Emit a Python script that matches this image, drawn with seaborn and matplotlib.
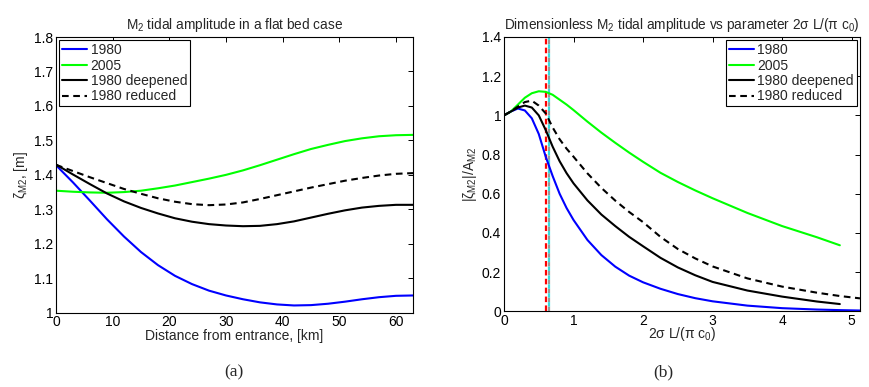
import numpy as np
import pandas as pd
import matplotlib
matplotlib.use("Agg")
import matplotlib.pyplot as plt
import seaborn as sns

# ---------------- data: panel (a) ----------------
dist_km = [0, 3, 6, 9, 12, 15, 18, 21, 24, 27, 30, 33, 36, 39, 42, 45, 48, 51, 54, 57, 60, 63]
amp_1980 = [1.428, 1.378, 1.325, 1.271, 1.221, 1.176, 1.138, 1.107, 1.083, 1.064, 1.050, 1.039,
            1.030, 1.024, 1.021, 1.022, 1.026, 1.032, 1.039, 1.045, 1.049, 1.050]
amp_2005 = [1.354, 1.351, 1.349, 1.348, 1.350, 1.354, 1.361, 1.369, 1.379, 1.389, 1.400, 1.413,
            1.428, 1.444, 1.460, 1.475, 1.487, 1.498, 1.506, 1.512, 1.515, 1.516]
amp_deep = [1.430, 1.401, 1.373, 1.346, 1.323, 1.304, 1.288, 1.274, 1.264, 1.257, 1.253, 1.251,
            1.252, 1.257, 1.265, 1.276, 1.287, 1.297, 1.305, 1.310, 1.313, 1.313]
amp_red = [1.429, 1.411, 1.393, 1.376, 1.359, 1.345, 1.332, 1.322, 1.315, 1.312, 1.314, 1.320,
           1.330, 1.341, 1.352, 1.363, 1.373, 1.383, 1.391, 1.398, 1.403, 1.405]

# ---------------- data: panel (b) ----------------
param_full = [0, 0.1, 0.2, 0.3, 0.4, 0.5, 0.6, 0.7, 0.8, 0.9, 1.0, 1.2, 1.4, 1.6, 1.8, 2.0,
              2.25, 2.5, 2.75, 3.0, 3.5, 4.0, 4.5, 4.83, 5.12]
param_short = param_full[:-1]
dim_1980 = [1.0, 1.02, 1.035, 1.025, 0.985, 0.905, 0.789, 0.69, 0.60, 0.527, 0.466, 0.364, 0.287,
            0.228, 0.182, 0.148, 0.115, 0.088, 0.067, 0.051, 0.029, 0.016, 0.009, 0.006, 0.004]
dim_2005 = [1.0, 1.02, 1.055, 1.09, 1.113, 1.123, 1.12, 1.105, 1.08, 1.055, 1.027, 0.968, 0.912,
            0.86, 0.81, 0.763, 0.707, 0.66, 0.617, 0.577, 0.502, 0.435, 0.378, 0.337]
dim_deep = [1.0, 1.02, 1.04, 1.05, 1.04, 1.0, 0.925, 0.84, 0.766, 0.705, 0.653, 0.566, 0.494,
            0.435, 0.38, 0.332, 0.273, 0.224, 0.184, 0.150, 0.106, 0.075, 0.050, 0.037]
dim_red = [1.0, 1.02, 1.045, 1.068, 1.075, 1.05, 1.01, 0.938, 0.878, 0.83, 0.789, 0.704, 0.630,
           0.565, 0.507, 0.455, 0.380, 0.318, 0.270, 0.229, 0.168, 0.126, 0.095, 0.078, 0.066]
vline_red = 0.605
vline_cyan = 0.645

labels = ["1980", "2005", "1980 deepened", "1980 reduced"]
colors = {"1980": "#0000ff", "2005": "#00ff00", "1980 deepened": "black", "1980 reduced": "black"}
dashes = {"1980": "", "2005": "", "1980 deepened": "", "1980 reduced": (3.2, 2.2)}

df_a = pd.concat([
    pd.DataFrame({"x": dist_km, "y": amp_1980, "case": "1980"}),
    pd.DataFrame({"x": dist_km, "y": amp_2005, "case": "2005"}),
    pd.DataFrame({"x": dist_km, "y": amp_deep, "case": "1980 deepened"}),
    pd.DataFrame({"x": dist_km, "y": amp_red, "case": "1980 reduced"}),
], ignore_index=True)
df_b = pd.concat([
    pd.DataFrame({"x": param_full, "y": dim_1980, "case": "1980"}),
    pd.DataFrame({"x": param_short, "y": dim_2005, "case": "2005"}),
    pd.DataFrame({"x": param_short, "y": dim_deep, "case": "1980 deepened"}),
    pd.DataFrame({"x": param_full, "y": dim_red, "case": "1980 reduced"}),
], ignore_index=True)

sns.set_theme(style="white")
plt.rcParams["font.family"] = ["Liberation Sans", "DejaVu Sans"]
plt.rcParams["mathtext.fontset"] = "custom"
plt.rcParams["mathtext.rm"] = "Liberation Sans"
plt.rcParams["mathtext.it"] = "Liberation Sans"
plt.rcParams["mathtext.sf"] = "Liberation Sans"
plt.rcParams["xtick.direction"] = "in"
plt.rcParams["ytick.direction"] = "in"

fs = 10
fig = plt.figure(figsize=(8.69, 3.87), dpi=100)
ax1 = fig.add_axes([56 / 869, 1 - 312.7 / 387, 357 / 869, 275.7 / 387])
ax2 = fig.add_axes([504 / 869, 1 - 311.3 / 387, 356 / 869, 274.3 / 387])

for ax, df in ((ax1, df_a), (ax2, df_b)):
    sns.lineplot(data=df, x="x", y="y", hue="case", style="case", hue_order=labels,
                 style_order=labels, palette=colors, dashes=dashes, linewidth=1.5,
                 sort=False, ax=ax)

# vertical reference lines in panel (b)
ax2.axvline(vline_cyan, color="0.6", lw=1.6, ls=(0, (2.0, 2.0)), zorder=1)
ax2.axvline(vline_cyan, color="#33dddd", lw=1.6, ls=(2.0, (2.0, 2.0)), zorder=1)
ax2.axvline(vline_red, color="red", lw=1.6, ls=(0, (2.5, 1.5)), zorder=1)

ax1.set_xlim(0, 63)
ax1.set_ylim(1.0, 1.8)
ax1.set_xticks(np.arange(0, 61, 10))
ax1.set_yticks(np.arange(1.0, 1.81, 0.1))
ax1.set_yticklabels(["1", "1.1", "1.2", "1.3", "1.4", "1.5", "1.6", "1.7", "1.8"])

ax2.set_xlim(0, 5.12)
ax2.set_ylim(0, 1.4)
ax2.set_xticks(np.arange(0, 6, 1))
ax2.set_yticks(np.arange(0, 1.41, 0.2))
ax2.set_yticklabels(["0", "0.2", "0.4", "0.6", "0.8", "1", "1.2", "1.4"])

for ax in (ax1, ax2):
    ax.tick_params(axis="both", which="both", direction="in", top=True, right=True,
                   length=3.5, width=0.7, labelsize=fs, pad=2, colors="black")
    for s in ax.spines.values():
        s.set_color("black")
        s.set_linewidth(0.8)
    leg = ax.get_legend()
    if leg is not None:
        leg.remove()

ax1.set_title(r"M$_2$ tidal amplitude in a flat bed case", fontsize=9.8, pad=6)
ax2.set_title(r"Dimensionless M$_2$ tidal amplitude vs parameter 2$\sigma$ L/($\pi$ c$_0$)",
              fontsize=9.8, pad=6)
ax1.set_xlabel("Distance from entrance, [km]", fontsize=fs, labelpad=0)
ax1.set_ylabel(r"$\zeta_{M2}$, [m]", fontsize=fs, labelpad=3)
ax2.set_xlabel(r"2$\sigma$ L/($\pi$ c$_0$)", fontsize=fs, labelpad=-2)
ax2.set_ylabel(r"|$\zeta_{M2}$|/A$_{M2}$", fontsize=fs, labelpad=2)

for ax, loc in ((ax1, "upper left"), (ax2, "upper right")):
    h, l = ax.get_legend_handles_labels()
    lg = ax.legend(h, l, loc=loc, fontsize=fs, frameon=True, fancybox=False,
                   edgecolor="black", framealpha=1, handlelength=1.8, handletextpad=0.25,
                   borderaxespad=0.25, borderpad=0.2, labelspacing=0.1)
    lg.get_frame().set_linewidth(0.8)

fig.text(234 / 869, 1 - 372 / 387, "(a)", family="Liberation Serif", fontsize=12.5,
         ha="center", va="center")
fig.text(663 / 869, 1 - 372 / 387, "(b)", family="Liberation Serif", fontsize=12.5,
         ha="center", va="center")

fig.savefig("out.png", dpi=100)
